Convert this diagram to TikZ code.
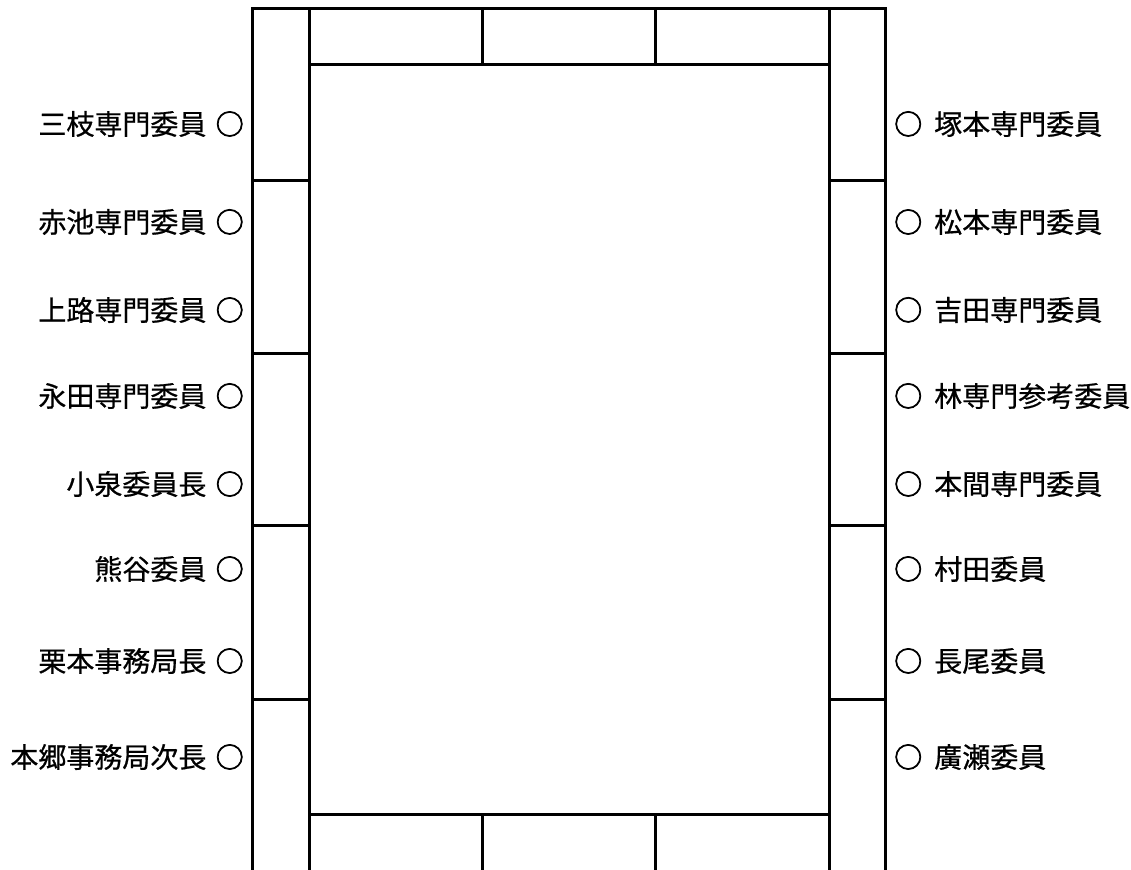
\documentclass[tikz,border=0pt]{standalone}
\usepackage{fontspec}
\newfontfamily\jpfont[FakeBold=0.6]{Noto Sans CJK JP}
\newfontfamily\markfont[FakeBold=2.5]{Noto Sans CJK JP}
\begin{document}
\begin{tikzpicture}[
  x=0.75pt,y=-0.75pt,
  font=\jpfont\fontsize{21pt}{25pt}\selectfont,
  line join=miter,
  wall/.style={draw=black,line width=2.25pt},
  leftseat/.style={anchor=east,inner sep=0pt},
  rightseat/.style={anchor=west,inner sep=0pt}
]
\useasboundingbox (0,0) rectangle (1131,870);

% Outer frame and the two side columns
\draw[wall] (252,870) -- (252,9) -- (885,9) -- (885,870);
\draw[wall] (309,870) -- (309,9);
\draw[wall] (829,870) -- (829,9);

% Table ends with their three boxes
\draw[wall] (309,65) -- (829,65);
\draw[wall] (309,814) -- (829,814);
\foreach \x in {482,655}{
  \draw[wall] (\x,9) -- (\x,65);
  \draw[wall] (\x,814) -- (\x,870);
}

% Seat dividers in the side columns
\foreach \y in {181,353,525,699}{
  \draw[wall] (252,\y) -- (309,\y);
  \draw[wall] (829,\y) -- (885,\y);
}

% Members seated on the left
\foreach \i/\y/\name in {1/124/三枝専門委員,2/222/赤池専門委員,3/310/上路専門委員,
  4/396/永田専門委員,5/484/小泉委員長,6/569/熊谷委員,7/661/栗本事務局長,
  8/757/本郷事務局次長}{
  \node[leftseat] (left\i) at (244,\y) {\name\hspace{7pt}{\markfont ○}};
}

% Members seated on the right
\foreach \i/\y/\name in {1/124/塚本専門委員,2/222/松本専門委員,3/310/吉田専門委員,
  4/396/林専門参考委員,5/484/本間専門委員,6/569/村田委員,7/661/長尾委員,
  8/757/廣瀬委員}{
  \node[rightseat] (right\i) at (894,\y) {{\markfont ○}\hspace{9pt}\name};
}

\end{tikzpicture}
\end{document}
